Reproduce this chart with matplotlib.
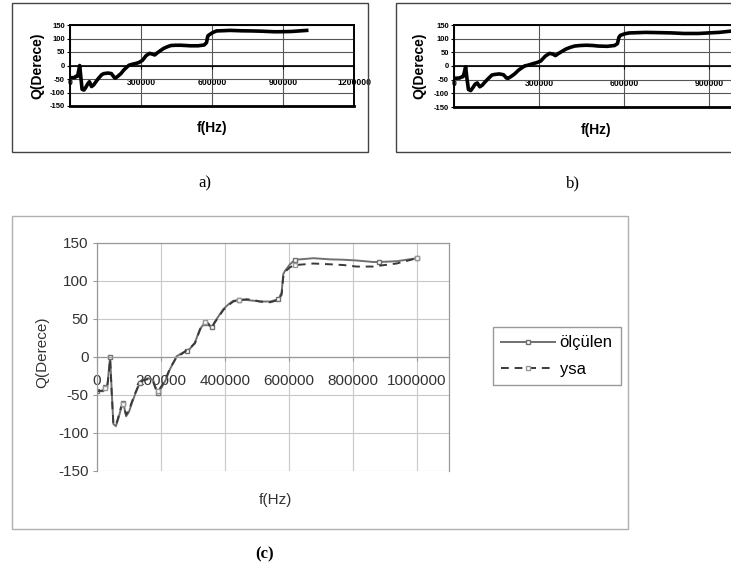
import matplotlib.pyplot as plt
import matplotlib.patches as mpatches

# ---------------------------------------
# Data
# ---------------------------------------
freq = [0, 20000, 25000, 32000, 36000, 41000, 46000, 51000, 59000, 66000,
        75000, 82000, 91000, 100000, 108000, 120000, 134000, 143000, 160000, 175000,
        185000, 191000, 202000, 215000, 228000, 249000, 265000, 280000, 291000, 306000,
        322000, 337000, 348000, 358000, 369000, 382000, 395000, 410000, 426000, 445000,
        468000, 490000, 509000, 541000, 567000, 577000, 582000, 587000, 603000, 619000,
        650000, 676000, 728000, 770000, 811000, 863000, 880000, 936000, 1000000]

olculen = [-45, -45, -40, -40, -22, 0, -45, -88, -91, -82,
           -68, -60, -78, -72, -62, -48, -34, -30, -28, -30,
           -42, -47, -40, -30, -16, 1, 5, 8, 11, 19,
           37, 45, 42, 39, 47, 55, 63, 69, 74, 75,
           75, 74, 73, 73, 76, 85, 109, 113, 122, 128,
           129, 130, 128.5, 128, 127, 125, 125, 126, 130]

ysa = [-45, -44, -41, -39, -25, -3, -48, -86, -90, -80,
       -66, -62, -76, -70, -60, -47, -33, -31, -29, -32,
       -44, -45, -38, -28, -15, 0, 4, 9, 12, 18,
       36, 46, 44, 38, 46, 54, 62, 68, 73, 75,
       76, 75, 73, 72, 75, 82, 105, 112, 118, 121,
       122, 123, 122, 121, 119, 119, 120, 123, 130]

y_ticks = [-150, -100, -50, 0, 50, 100, 150]
ab_x_ticks = [0, 300000, 600000, 900000, 1200000]
c_x_ticks = [0, 200000, 400000, 600000, 800000, 1000000]

W, H = 731, 570
plt.rcParams["font.family"] = ["Liberation Sans", "DejaVu Sans"]
fig = plt.figure(figsize=(W / 100, H / 100), dpi=100)
fig.patch.set_facecolor("white")


def px_axes(l, t, r, b):
    return fig.add_axes([l / W, 1 - b / H, (r - l) / W, (b - t) / H])


def frame(l, t, r, b, color):
    fig.patches.append(mpatches.Rectangle((l / W, 1 - b / H), (r - l) / W, (b - t) / H,
                                          transform=fig.transFigure, fill=False,
                                          edgecolor=color, linewidth=1.0))


# ---------------------------------------
# small panels a) and b)
# ---------------------------------------
def small_panel(ax, yvals, ylab_x, flab_x, flab_y):
    ax.spines["bottom"].set_position(("data", 0))
    ax.plot(freq, yvals, color="black", linewidth=2.6, solid_joinstyle="round")
    ax.axhline(-150, color="black", linewidth=2.0, clip_on=False)
    ax.set_xlim(0, 1200000)
    ax.set_ylim(-150, 150)
    ax.set_yticks(y_ticks)
    ax.set_yticklabels([str(v) for v in y_ticks], fontsize=5.5, fontweight="bold")
    ax.set_xticks(ab_x_ticks)
    ax.set_xticklabels([str(v) for v in ab_x_ticks], fontsize=6.2, fontweight="bold")
    for s in ["top", "right", "left"]:
        ax.spines[s].set_linewidth(1.4)
    ax.spines["bottom"].set_linewidth(1.2)
    ax.tick_params(axis="x", length=2, pad=7, width=0.8)
    ax.tick_params(axis="y", length=2, pad=1.5, width=0.8)
    ax.grid(True, color="#555555", linewidth=0.8)
    ax.set_axisbelow(True)
    fig.text(ylab_x / W, 1 - 66 / H, "Q(Derece)", rotation=90, ha="center", va="center",
             fontsize=10, fontweight="bold")
    fig.text(flab_x / W, 1 - flab_y / H, "f(Hz)", ha="center", va="center",
             fontsize=10, fontweight="bold")


ax_a = px_axes(70, 25, 354, 106)
small_panel(ax_a, olculen, 37, 212, 128)
frame(12, 3, 368, 152, "#444444")

ax_b = px_axes(454, 25, 794, 107)
small_panel(ax_b, ysa, 419, 596, 130)
frame(396, 3, 745, 152, "#444444")

fig.text(205 / W, 1 - 183 / H, "a)", ha="center", va="center", fontsize=12,
         family="Liberation Serif")
fig.text(573 / W, 1 - 183 / H, "b)", ha="center", va="center", fontsize=12,
         family="Liberation Serif")

# ---------------------------------------
# large panel (c)
# ---------------------------------------
ax = px_axes(97, 243, 449, 471)
ax.spines["bottom"].set_position(("data", 0))
marks = [0, 2, 5, 11, 16, 21, 27, 31, 33, 39, 44, 49, 56, 58]
ax.plot(freq, olculen, color="#707070", linewidth=1.4, marker="s", markersize=3,
        markerfacecolor="white", markeredgecolor="#707070", markevery=marks,
        label="ölçülen")
ax.plot(freq, ysa, color="#3a3a3a", linewidth=1.4, linestyle=(0, (4, 3)), marker="s",
        markersize=3, markerfacecolor="white", markeredgecolor="#999999",
        markevery=marks[1::2], label="ysa")
ax.set_xlim(0, 1100000)
ax.set_ylim(-150, 150)
ax.set_yticks(y_ticks)
ax.set_yticklabels([str(v) for v in y_ticks], fontsize=11, color="#333333")
ax.set_xticks(c_x_ticks)
ax.set_xticklabels([str(v) for v in c_x_ticks], fontsize=11, color="#333333")
for s in ax.spines.values():
    s.set_color("#999999")
    s.set_linewidth(0.9)
ax.tick_params(axis="x", length=3, pad=9, color="#999999")
ax.tick_params(axis="y", length=3, pad=3, color="#999999")
ax.grid(True, color="#c8c8c8", linewidth=0.8)
ax.set_axisbelow(True)

fig.text(42 / W, 1 - 352 / H, "Q(Derece)", rotation=90, ha="center", va="center",
         fontsize=11, color="#333333")
fig.text(275 / W, 1 - 500 / H, "f(Hz)", ha="center", va="center", fontsize=11,
         color="#333333")
fig.text(265 / W, 1 - 554 / H, "(c)", ha="center", va="center", fontsize=12,
         fontweight="bold", family="Liberation Serif")

ax.legend(loc="upper left", bbox_to_anchor=(493 / W, 1 - 327 / H),
          bbox_transform=fig.transFigure, borderaxespad=0, fancybox=False,
          edgecolor="#999999", fontsize=12, handlelength=3.2, labelspacing=0.7,
          borderpad=0.5, handletextpad=0.3, framealpha=1)

frame(12, 216, 628, 529, "#b0b0b0")

fig.savefig("out.png", dpi=100)
